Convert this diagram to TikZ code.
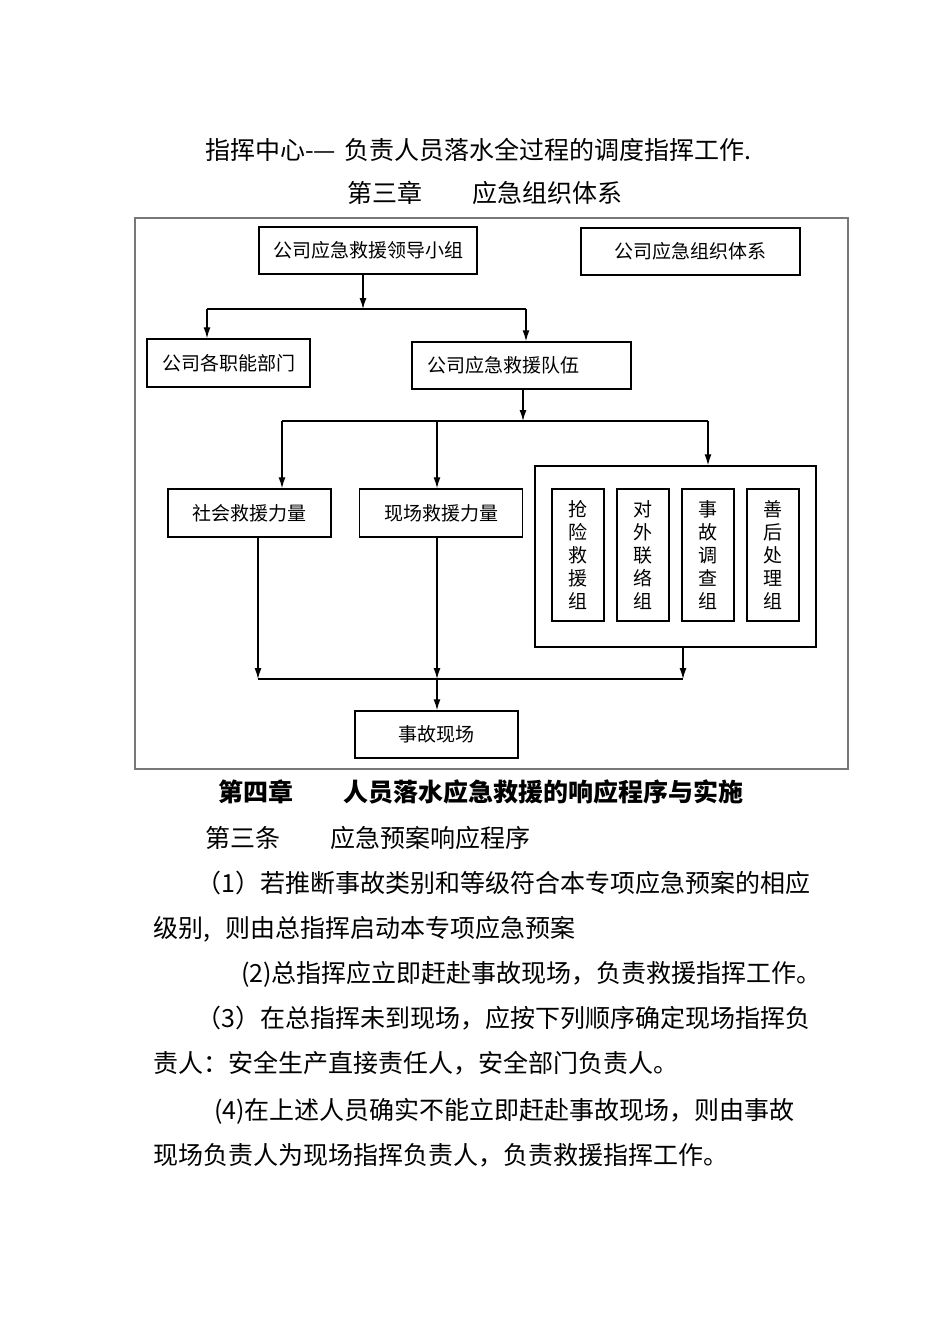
\documentclass[tikz,border=0pt]{standalone}
\usepackage{fontspec}
\setmainfont{Noto Sans CJK SC}
\usetikzlibrary{positioning}
\usetikzlibrary{arrows.meta}
\usetikzlibrary{calc}
\tikzstyle{line} = [draw, -{Latex[length=11pt,width=7pt]}, line width=1.3pt]
\tikzstyle{term} = [draw, line width=1.3pt]
\tikzstyle{box} = [draw, line width=1.5pt, inner sep=0pt, font=\fontsize{19}{23}\selectfont]
\tikzstyle{para} = [anchor=west, inner sep=0pt, text height=22pt, text depth=3pt, font=\fontsize{25}{30}\selectfont]
\definecolor{framegray}{RGB}{120,120,120}

\begin{document}
\begin{tikzpicture}[x=1pt,y=-1pt]
  \useasboundingbox (0,0) rectangle (950,1344);

  % ============================ Heading =======================================

  \node[para] (hd) at (205,150) {指挥中心-—\hspace{0.35em}负责人员落水全过程的调度指挥工作.};
  \node[para] (ch3) at (347,193) {第三章\quad\quad 应急组织体系};

  % ============================= Chart ========================================

  \draw[framegray, line width=1.2pt] (135,218) rectangle (848,769);

  \node[box, minimum width=218pt, minimum height=47pt] (lead) at (368,250.5) {公司应急救援领导小组};
  \node[box, minimum width=219pt, minimum height=47pt] (sys) at (690.5,251.5) {公司应急组织体系};
  \node[box, minimum width=163pt, minimum height=48pt] (dept) at (228.5,363) {公司各职能部门};
  \node[box, text width=189pt, align=left, inner xsep=15pt, minimum height=47pt] (team) at (521.5,365.5) {公司应急救援队伍};
  \node[box, minimum width=163pt, minimum height=48pt] (social) at (249.5,513) {社会救援力量};
  \node[box, minimum width=163pt, minimum height=48pt] (site) at (441,513) {现场救援力量};
  \node[box, minimum width=281pt, minimum height=181pt] (group) at (675.5,556.5) {};
  \node[box, minimum width=52pt, minimum height=132pt, align=center] (g1) at (578,555) {抢\\险\\救\\援\\组};
  \node[box, minimum width=52pt, minimum height=132pt, align=center, right=11.5pt of g1] (g2) {对\\外\\联\\络\\组};
  \node[box, minimum width=52pt, minimum height=132pt, align=center, right=11.5pt of g2] (g3) {事\\故\\调\\查\\组};
  \node[box, minimum width=52pt, minimum height=132pt, align=center, right=11.5pt of g3] (g4) {善\\后\\处\\理\\组};
  \node[box, minimum width=163pt, minimum height=47pt] (scene) at (436.5,734.5) {事故现场};

  % ============================ Connect =======================================
  \coordinate (b1) at (363,309);
  \coordinate (b1l) at (207,309);
  \coordinate (b1r) at (526,309);
  \path[line] (lead.south -| b1) -- (b1);
  \path[term] (b1l) -- (b1r);
  \path[line] (b1l) -- (dept.north -| b1l);
  \path[line] (b1r) -- (team.north -| b1r);

  \coordinate (b2) at (523,421);
  \coordinate (b2l) at (282,421);
  \coordinate (b2m) at (437,421);
  \coordinate (b2r) at (708,421);
  \path[line] (team.south -| b2) -- (b2);
  \path[term] (b2l) -- (b2r);
  \path[line] (b2l) -- (social.north -| b2l);
  \path[line] (b2m) -- (site.north -| b2m);
  \path[line] (b2r) -- (group.north -| b2r);

  \coordinate (b3) at (437,679);
  \coordinate (b3l) at (258,679);
  \coordinate (b3r) at (683,679);
  \path[line] (social.south -| b3l) -- (b3l);
  \path[line] (site.south -| b3) -- (b3);
  \path[line] (group.south -| b3r) -- (b3r);
  \path[term] (b3l) -- (b3r);
  \path[line] (b3) -- (scene.north -| b3);

  % ============================= Text =========================================

  \node[para, font=\bfseries\fontsize{25}{30}\selectfont] (ch4) at (218,792) {第四章\quad\quad 人员落水应急救援的响应程序与实施};
  \node[para] (art3) at (205,838) {第三条\quad\quad 应急预案响应程序};
  \node[para] (p1a) at (196,883) {（1）若推断事故类别和等级符合本专项应急预案的相应};
  \node[para] (p1b) at (153,928) {级别,\hspace{0.6em}则由总指挥启动本专项应急预案};
  \node[para] (p2) at (241,973) {(2)总指挥应立即赶赴事故现场，负责救援指挥工作。};
  \node[para] (p3a) at (196,1018) {（3）在总指挥未到现场，应按下列顺序确定现场指挥负};
  \node[para] (p3b) at (153,1063) {责人：安全生产直接责任人，安全部门负责人。};
  \node[para] (p4a) at (214,1110) {(4)在上述人员确实不能立即赶赴事故现场，则由事故};
  \node[para] (p4b) at (153,1155) {现场负责人为现场指挥负责人，负责救援指挥工作。};

\end{tikzpicture}
\end{document}
